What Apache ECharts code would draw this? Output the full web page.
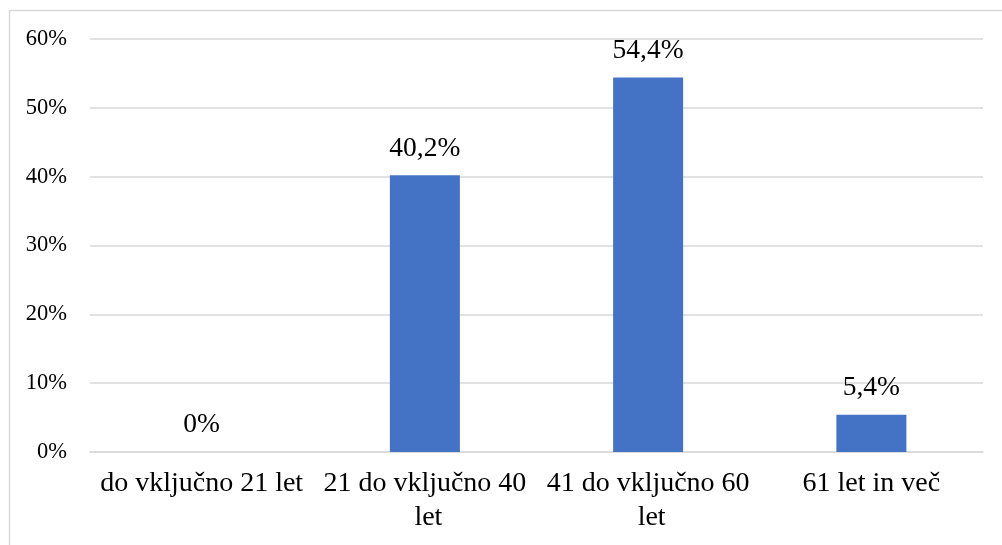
<!DOCTYPE html>
<html>
<head>
<meta charset="utf-8">
<script src="https://cdn.jsdelivr.net/npm/echarts@6/dist/echarts.min.js"></script>
<style>
  html, body { margin: 0; padding: 0; background: #ffffff; }
  #chart { width: 1002px; height: 545px; }
</style>
</head>
<body>
<div id="chart"></div>
<script>
// Age groups and their shares (percent)
const categories = ['do vključno 21 let', '21 do vključno 40 let', '41 do vključno 60 let', '61 let in več'];
const shares = [0, 40.2, 54.4, 5.4];
const valueLabels = ['0%', '40,2%', '54,4%', '5,4%'];
const yTicks = [0, 10, 20, 30, 40, 50, 60];

const serif = '"Liberation Serif", "Times New Roman", serif';
const chart = echarts.init(document.getElementById('chart'), null, { renderer: 'canvas' });

chart.setOption({
  animation: false,
  backgroundColor: '#ffffff',
  graphic: [{
    type: 'rect',
    silent: true,
    shape: { x: 9.5, y: 10.5, width: 1200, height: 1000 },
    style: { fill: 'none', stroke: '#d9d9d9', lineWidth: 1.5 }
  }],
  grid: { left: 90, right: 19, top: 39, bottom: 93, containLabel: false },
  xAxis: {
    type: 'category',
    data: categories,
    axisTick: { show: false },
    axisLine: { show: true, lineStyle: { color: '#d9d9d9', width: 1.5 } },
    axisLabel: {
      interval: 0,
      margin: 15,
      color: '#000000',
      fontFamily: serif,
      fontSize: 28,
      lineHeight: 34,
      width: 220,
      overflow: 'break'
    }
  },
  yAxis: {
    type: 'value',
    min: yTicks[0],
    max: yTicks[yTicks.length - 1],
    interval: 10,
    axisLine: { show: false },
    axisTick: { show: false },
    splitLine: { lineStyle: { color: '#d9d9d9', width: 1.5 } },
    axisLabel: {
      margin: 23,
      color: '#000000',
      fontFamily: serif,
      fontSize: 22.5,
      formatter: v => v + '%'
    }
  },
  series: [{
    type: 'bar',
    data: shares,
    barWidth: 70,
    itemStyle: { color: '#4472c4' },
    label: {
      show: true,
      position: 'top',
      distance: 13,
      color: '#000000',
      fontFamily: serif,
      fontSize: 27.5,
      formatter: p => valueLabels[p.dataIndex]
    }
  }]
});
</script>
</body>
</html>
